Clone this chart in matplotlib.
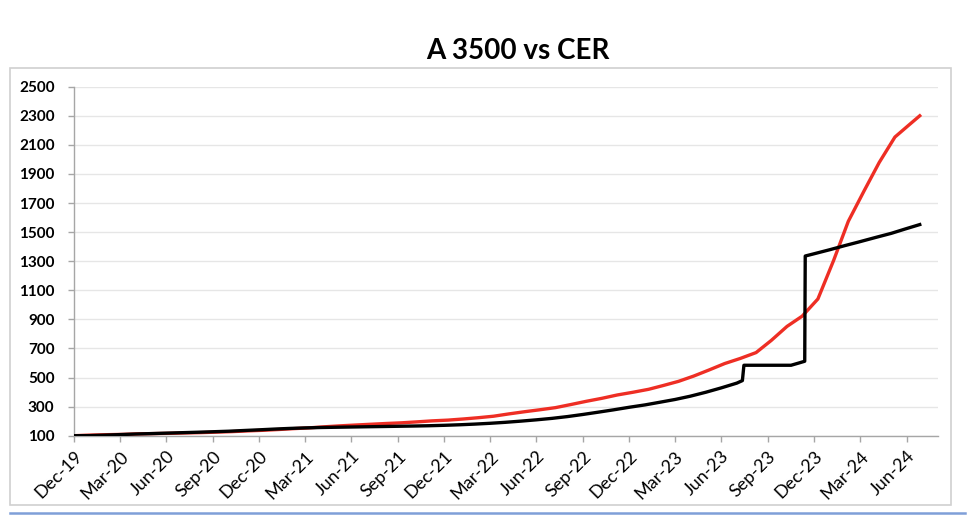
import matplotlib.pyplot as plt
import matplotlib.dates as mdates
import pandas as pd
from matplotlib.lines import Line2D
from matplotlib.patches import Rectangle

# A 3500 wholesale rate, base Dec-19 = 100
a3500_dates = [
    "2019-12-31", "2020-01-31", "2020-02-29", "2020-03-31", "2020-04-30", "2020-05-31",
    "2020-06-30", "2020-07-31", "2020-08-31", "2020-09-30", "2020-10-31", "2020-11-30",
    "2020-12-31", "2021-01-31", "2021-02-28", "2021-03-31", "2021-04-30", "2021-05-31",
    "2021-06-30", "2021-07-31", "2021-08-31", "2021-09-30", "2021-10-31", "2021-11-30",
    "2021-12-31", "2022-01-31", "2022-02-28", "2022-03-31", "2022-04-30", "2022-05-31",
    "2022-06-30", "2022-07-31", "2022-08-31", "2022-09-30", "2022-10-31", "2022-11-30",
    "2022-12-31", "2023-01-31", "2023-02-28", "2023-03-31", "2023-04-30", "2023-05-31",
    "2023-06-30", "2023-07-31", "2023-08-11", "2023-08-14", "2023-11-15", "2023-11-30",
    "2023-12-12", "2023-12-13", "2023-12-29", "2024-01-31", "2024-02-29", "2024-03-27",
    "2024-04-30", "2024-05-31", "2024-06-28", "2024-07-26",
]
a3500_values = [
    100.0, 100.7, 103.8, 107.6, 111.6, 114.4,
    117.6, 120.7, 123.9, 127.2, 130.8, 135.7,
    140.5, 145.8, 150.0, 153.6, 156.3, 158.1,
    159.8, 161.5, 163.1, 164.8, 166.5, 168.5,
    171.5, 175.3, 179.6, 185.3, 192.0, 200.2,
    209.0, 219.1, 231.6, 245.9, 262.0, 278.0,
    295.7, 311.9, 329.4, 349.0, 371.5, 399.0,
    428.6, 461.6, 479.0, 584.4, 584.4, 599.5,
    612.0, 1335.6, 1349.8, 1379.5, 1407.1, 1431.5,
    1463.4, 1491.8, 1522.3, 1551.9,
]

# CER index, base Dec-19 = 100
cer_dates = [
    "2019-12-31", "2020-01-07", "2020-02-07", "2020-03-07", "2020-04-07", "2020-05-07",
    "2020-06-07", "2020-07-07", "2020-08-07", "2020-09-07", "2020-10-07", "2020-11-07",
    "2020-12-07", "2021-01-07", "2021-02-07", "2021-03-07", "2021-04-07", "2021-05-07",
    "2021-06-07", "2021-07-07", "2021-08-07", "2021-09-07", "2021-10-07", "2021-11-07",
    "2021-12-07", "2022-01-07", "2022-02-07", "2022-03-07", "2022-04-07", "2022-05-07",
    "2022-06-07", "2022-07-07", "2022-08-07", "2022-09-07", "2022-10-07", "2022-11-07",
    "2022-12-07", "2023-01-07", "2023-02-07", "2023-03-07", "2023-04-07", "2023-05-07",
    "2023-06-07", "2023-07-07", "2023-08-07", "2023-09-07", "2023-10-07", "2023-11-07",
    "2023-12-07", "2024-01-07", "2024-02-07", "2024-03-07", "2024-04-07", "2024-05-07",
    "2024-06-07", "2024-07-07", "2024-07-26",
]
cer_values = [
    100.0, 100.9, 104.7, 107.1, 109.2, 112.9,
    114.6, 116.3, 119.0, 121.2, 124.5, 128.0,
    132.9, 137.1, 142.6, 148.3, 153.6, 161.0,
    167.6, 173.1, 178.6, 184.0, 188.5, 195.2,
    202.1, 207.2, 215.2, 223.5, 234.0, 249.8,
    264.8, 278.2, 292.9, 314.7, 336.6, 357.3,
    380.0, 398.7, 419.1, 444.4, 473.8, 510.2,
    553.1, 596.1, 631.5, 671.6, 755.2, 851.5,
    922.2, 1040.3, 1305.2, 1574.3, 1782.7, 1979.0,
    2153.8, 2243.7, 2300.0,
]

tick_dates = pd.date_range("2019-12-31", "2024-06-30", freq="QE")
y_ticks = list(range(100, 2501, 200))

fig = plt.figure(figsize=(9.8, 5.27), dpi=100)
ax = fig.add_axes([74 / 980, 91.3 / 527, 864 / 980, 349 / 527])

ax.plot(pd.to_datetime(cer_dates), cer_values, color="#ee2e24", linewidth=2.4,
        solid_joinstyle="round", zorder=3)
ax.plot(pd.to_datetime(a3500_dates), a3500_values, color="black", linewidth=2.4,
        solid_joinstyle="round", zorder=4)

ax.set_xlim(pd.Timestamp("2019-12-31"), pd.Timestamp("2024-08-31"))
ax.set_ylim(100, 2500)
ax.set_yticks(y_ticks)
ax.set_xticks(tick_dates)
ax.xaxis.set_major_formatter(mdates.DateFormatter("%b-%y"))

for lbl in ax.get_yticklabels():
    lbl.set_fontfamily("Lato")
    lbl.set_fontweight("bold")
    lbl.set_fontsize(11)
for lbl in ax.get_xticklabels():
    lbl.set_fontfamily("Lato")
    lbl.set_fontsize(13)
    lbl.set_rotation(45)
    lbl.set_ha("right")
    lbl.set_rotation_mode("anchor")

ax.grid(axis="y", color="#e6e6e6", linewidth=1)
ax.set_axisbelow(True)
for side in ["top", "right"]:
    ax.spines[side].set_visible(False)
for side in ["left", "bottom"]:
    ax.spines[side].set_color("#a6a6a6")
    ax.spines[side].set_linewidth(1)
ax.tick_params(axis="both", colors="#a6a6a6", length=4, width=1, labelcolor="black")
ax.tick_params(axis="y", pad=10)
ax.tick_params(axis="x", pad=5)

fig.text(518 / 980, 1 - 51 / 527, "A 3500 vs CER", ha="center", va="center",
         fontsize=20, fontweight="bold", family="Lato")

fig.patches.append(Rectangle((10 / 980, 1 - 505 / 527), 941 / 980, 437 / 527,
                             transform=fig.transFigure, fill=False,
                             edgecolor="#d0d0d0", linewidth=1.2))
fig.lines.append(Line2D([10 / 980, 965 / 980], [1 - 513 / 527, 1 - 513 / 527],
                        transform=fig.transFigure, color="#7f9fd8", linewidth=1.8))

fig.savefig("out.png", dpi=100)
